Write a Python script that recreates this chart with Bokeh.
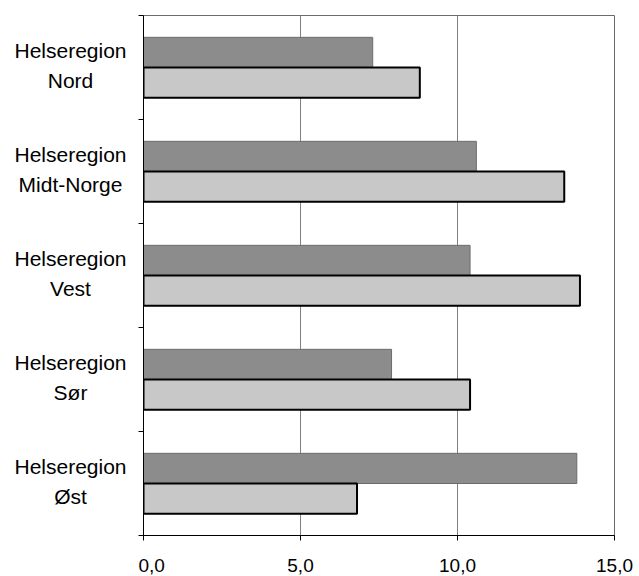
from bokeh.plotting import figure
from bokeh.layouts import row
from bokeh.models import Range1d, FixedTicker, ColumnDataSource
from bokeh.core.properties import value
from bokeh.embed import file_html
from bokeh.resources import INLINE

# ---- data ----
regions = ["Nord", "Midt-Norge", "Vest", "Sør", "Øst"]
label_prefix = "Helseregion"
series_dark = [7.3, 10.6, 10.4, 7.9, 13.8]
series_light = [8.8, 13.4, 13.9, 10.4, 6.8]
x_ticks = [0, 5, 10, 15]
x_tick_labels = ["0,0", "5,0", "10,0", "15,0"]

FONT = "Liberation Sans"
n = len(regions)
centers = [i + 0.5 for i in range(n)]
bar_h = 0.29

W, H = 639, 576
LABEL_W = 138
TOP, BOTTOM = 15, 41

y_range = Range1d(n, 0)

# ---- label column (category names) ----
lab = figure(width=LABEL_W, height=H, output_backend="svg", toolbar_location=None,
             x_range=Range1d(0, LABEL_W), y_range=y_range,
             x_axis_type=None, y_axis_type=None,
             min_border_left=0, min_border_right=0,
             min_border_top=TOP, min_border_bottom=BOTTOM)
lab.outline_line_color = None
lab.grid.visible = False
lab_src = ColumnDataSource(dict(
    y=centers,
    text=[f"{label_prefix}\n{r}" for r in regions],
))
lab.text(x=70, y="y", text="text", source=lab_src, text_align="center",
         text_baseline="middle", text_font=value(FONT), text_font_size="21px",
         text_line_height=1.3, text_color="black", y_offset=-2)

# ---- main chart ----
p = figure(width=W - LABEL_W, height=H, output_backend="svg", toolbar_location=None,
           x_range=Range1d(0, 15), y_range=y_range,
           min_border_left=5, min_border_right=25, min_border_top=TOP,
           min_border_bottom=BOTTOM)

p.background_fill_color = "white"
p.border_fill_color = "white"
p.outline_line_color = "#6a6a6a"
p.outline_line_width = 1

p.hbar(y=[c - bar_h / 2 for c in centers], left=0, right=series_dark, height=bar_h,
       fill_color="#8c8c8c", line_color="#6c6c6c", line_width=1)
p.hbar(y=[c + bar_h / 2 for c in centers], left=0, right=series_light, height=bar_h,
       fill_color="#c8c8c8", line_color="black", line_width=2)

p.xaxis.ticker = FixedTicker(ticks=x_ticks)
p.xaxis.major_label_overrides = {t: s for t, s in zip(x_ticks, x_tick_labels)}
p.xaxis.major_label_text_font = FONT
p.xaxis.major_label_text_font_size = "19px"
p.xaxis.major_label_text_color = "black"
p.xaxis.major_label_standoff = 18
p.xaxis.major_tick_out = 5
p.xaxis.major_tick_in = 0
p.xaxis.minor_tick_line_color = None
p.xaxis.axis_line_color = "black"
p.xaxis.major_tick_line_color = "black"

p.yaxis.ticker = FixedTicker(ticks=list(range(n + 1)))
p.yaxis.major_label_overrides = {t: "" for t in range(n + 1)}
p.yaxis.major_label_text_font_size = "0px"
p.yaxis.major_label_standoff = 0
p.yaxis.major_tick_out = 5
p.yaxis.major_tick_in = 0
p.yaxis.minor_tick_line_color = None
p.yaxis.axis_line_color = "black"
p.yaxis.major_tick_line_color = "black"

p.ygrid.visible = False
p.xgrid.grid_line_color = "#808080"
p.xgrid.grid_line_width = 1

layout = row(lab, p, spacing=0)
open("out.html", "w").write(file_html(layout, INLINE))
